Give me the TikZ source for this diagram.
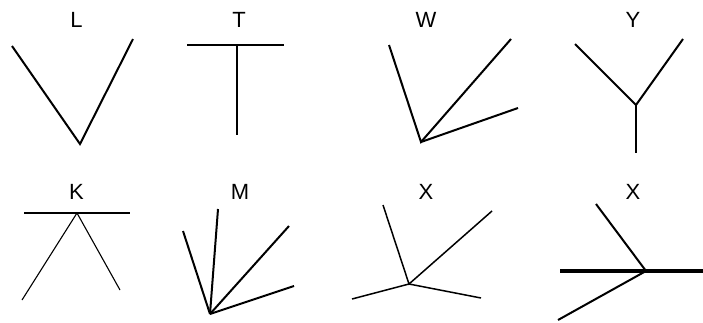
\documentclass[tikz,border=0pt]{standalone}
\usepackage{fontspec}
\setmainfont{Liberation Sans}
\begin{document}
\begin{tikzpicture}[x=1pt,y=-1pt,
  lbl/.style={inner sep=0pt,font=\fontsize{22}{24}\selectfont},
  seg/.style={line width=2pt,line cap=butt,line join=miter},
  thinseg/.style={line width=1.1pt},
  medseg/.style={line width=1.5pt},
  boldseg/.style={line width=3.5pt}]
\useasboundingbox (0,0) rectangle (703,322);
% L
\node[lbl] (lL) at (76.5,19.5) {L};
\coordinate (L1) at (12,46); \coordinate (L0) at (80,144); \coordinate (L2) at (133,39);
\draw[seg] (L1) -- (L0) -- (L2);
% T
\node[lbl] (lT) at (239,19.5) {T};
\coordinate (T1) at (187,45); \coordinate (T2) at (284,45);
\coordinate (T0) at (237,45); \coordinate (T3) at (237,135);
\draw[seg] (T1) -- (T2);
\draw[seg] (T0) -- (T3);
% W
\node[lbl] (lW) at (426,19.5) {W};
\coordinate (W0) at (421,142); \coordinate (W1) at (389,45);
\coordinate (W2) at (511,39); \coordinate (W3) at (518,108);
\draw[seg] (W1) -- (W0) -- (W2);
\draw[seg] (W0) -- (W3);
% Y
\node[lbl] (lY) at (633,19.5) {Y};
\coordinate (Y0) at (636,105); \coordinate (Y1) at (575,44);
\coordinate (Y2) at (683,39); \coordinate (Y3) at (636,153);
\draw[seg] (Y1) -- (Y0) -- (Y2);
\draw[seg] (Y0) -- (Y3);
% K
\node[lbl] (lK) at (76.5,191.5) {K};
\coordinate (K1) at (24,213); \coordinate (K2) at (130,213);
\coordinate (K0) at (77,213); \coordinate (K3) at (22,300); \coordinate (K4) at (120,290);
\draw[line width=2.5pt] (K1) -- (K2);
\draw[thinseg] (K3) -- (K0) -- (K4);
% M
\node[lbl] (lM) at (240,191.5) {M};
\coordinate (M0) at (210,314);
\coordinate (M1) at (183,231); \coordinate (M2) at (218,209);
\coordinate (M3) at (289,226); \coordinate (M4) at (294,286);
\draw[seg] (M0) -- (M1);
\draw[seg] (M0) -- (M2);
\draw[seg] (M0) -- (M3);
\draw[seg] (M0) -- (M4);
% X (first)
\node[lbl] (lX1) at (426,191.5) {X};
\coordinate (X0) at (409,284);
\coordinate (X1) at (383,205); \coordinate (X2) at (492,211);
\coordinate (X3) at (352,299); \coordinate (X4) at (481,298);
\draw[medseg] (X1) -- (X0) -- (X2);
\draw[medseg] (X3) -- (X0) -- (X4);
% X (second)
\node[lbl] (lX2) at (633,191.5) {X};
\coordinate (Z0) at (646,271);
\coordinate (Z1) at (560,271); \coordinate (Z2) at (703,271);
\coordinate (Z3) at (596,204); \coordinate (Z4) at (558,320);
\draw[boldseg] (Z1) -- (Z2);
\draw[seg] (Z3) -- (Z0) -- (Z4);
\end{tikzpicture}
\end{document}
